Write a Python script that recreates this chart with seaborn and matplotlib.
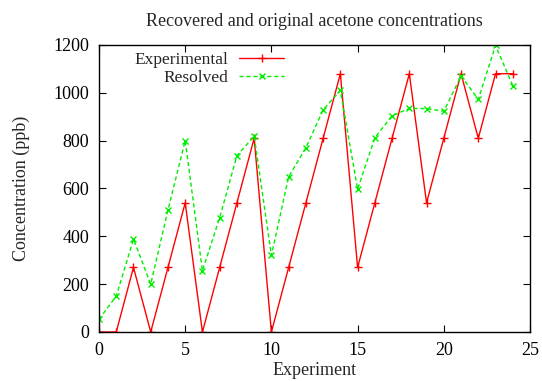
import matplotlib
matplotlib.use("Agg")
import matplotlib.pyplot as plt
import seaborn as sns
import pandas as pd

experiment = list(range(25))
experimental = [0, 0, 270, 0, 270, 540, 0, 270, 540, 810, 0, 270, 540, 810, 1080,
                270, 540, 810, 1080, 540, 810, 1080, 810, 1080, 1080]
resolved = [53, 150, 388, 200, 510, 800, 256, 478, 737, 819, 320, 649, 770, 929, 1010,
            597, 812, 904, 935, 934, 923, 1070, 973, 1198, 1030]
x_ticks = [0, 5, 10, 15, 20, 25]
y_ticks = [0, 200, 400, 600, 800, 1000, 1200]

sns.set_theme(style="ticks")
plt.rcParams['font.family'] = ['Liberation Serif', 'DejaVu Serif']
plt.rcParams['font.size'] = 13

fig = plt.figure(figsize=(5.42, 3.81), dpi=100)
ax = fig.add_axes([99/542, 1-332/381, (530-99)/542, (332-45)/381])

df = pd.DataFrame({"Experiment": experiment, "Experimental": experimental, "Resolved": resolved})

sns.lineplot(data=df, x="Experiment", y="Experimental", ax=ax, color="#ff0000",
             marker="+", markersize=6, markeredgewidth=1, markeredgecolor="#ff0000",
             linewidth=1, label="Experimental")
sns.lineplot(data=df, x="Experiment", y="Resolved", ax=ax, color="#00ee00",
             marker="x", markersize=4.5, markeredgewidth=1, markeredgecolor="#00ee00",
             linewidth=1, dashes=(3, 2), label="Resolved")

ax.set_xlim(0, 25)
ax.set_ylim(0, 1200)
ax.set_xticks(x_ticks)
ax.set_yticks(y_ticks)
ax.tick_params(direction="in", top=True, right=True, length=5, width=0.8,
               labelsize=13, colors="black", pad=7)
for s in ax.spines.values():
    s.set_visible(True)
    s.set_color("black")
    s.set_linewidth(1)

ax.set_title("Recovered and original acetone concentrations", fontsize=13, pad=14)
ax.set_xlabel("Experiment", fontsize=13, labelpad=2.5)
ax.set_ylabel("Concentration (ppb)", fontsize=13, labelpad=17)

leg = ax.legend(loc="upper right", bbox_to_anchor=(0.447, 1.0), frameon=False,
                markerfirst=False, handlelength=2.6, handletextpad=0.6,
                labelspacing=0.1, fontsize=12.5, borderaxespad=0.0, borderpad=0.42)

fig.savefig("out.png", dpi=100, facecolor="white")
